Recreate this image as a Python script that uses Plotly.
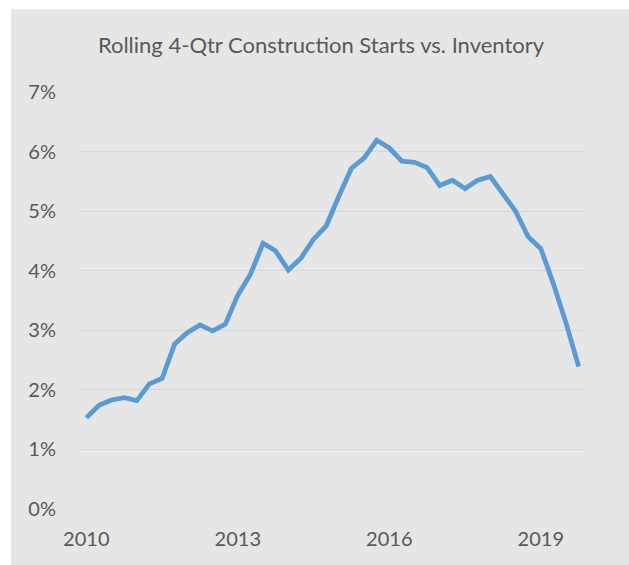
import plotly.graph_objects as go

quarters = [
    "2010 Q1", "2010 Q2", "2010 Q3", "2010 Q4",
    "2011 Q1", "2011 Q2", "2011 Q3", "2011 Q4",
    "2012 Q1", "2012 Q2", "2012 Q3", "2012 Q4",
    "2013 Q1", "2013 Q2", "2013 Q3", "2013 Q4",
    "2014 Q1", "2014 Q2", "2014 Q3", "2014 Q4",
    "2015 Q1", "2015 Q2", "2015 Q3", "2015 Q4",
    "2016 Q1", "2016 Q2", "2016 Q3", "2016 Q4",
    "2017 Q1", "2017 Q2", "2017 Q3", "2017 Q4",
    "2018 Q1", "2018 Q2", "2018 Q3", "2018 Q4",
    "2019 Q1", "2019 Q2", "2019 Q3", "2019 Q4",
]
starts_pct = [
    1.53, 1.74, 1.83, 1.87, 1.82, 2.10, 2.19, 2.77, 2.96, 3.09,
    2.99, 3.10, 3.59, 3.94, 4.46, 4.33, 4.01, 4.21, 4.53, 4.75,
    5.25, 5.72, 5.89, 6.19, 6.06, 5.84, 5.82, 5.73, 5.43, 5.52,
    5.38, 5.52, 5.58, 5.30, 5.00, 4.57, 4.37, 3.78, 3.12, 2.39,
]
tick_quarters = ["2010 Q1", "2013 Q1", "2016 Q1", "2019 Q1"]
tick_labels = ["2010", "2013", "2016", "2019"]
y_ticks = [0, 1, 2, 3, 4, 5, 6, 7]
y_tick_labels = ["0%", "1%", "2%", "3%", "4%", "5%", "6%", "7%"]

W, H = 629, 565
ML, MR, MT, MB = 80, 44, 91.7, 56
PW = W - ML - MR
PH = H - MT - MB

FONT = "Lato"
TXT = "#595959"
BG = "#e6e6e6"

fig = go.Figure(
    go.Scatter(
        x=quarters,
        y=starts_pct,
        mode="lines",
        line=dict(color="#5b9bd5", width=4.8),
        hoverinfo="skip",
    )
)

# white strips at top and left (chart area begins at x=11, y=9)
fig.add_shape(type="rect", xref="paper", yref="paper", layer="below",
              x0=-ML / PW - 0.05, x1=(11 - ML) / PW, y0=-MB / PH - 0.1, y1=1 + MT / PH + 0.1,
              fillcolor="white", line_width=0)
fig.add_shape(type="rect", xref="paper", yref="paper", layer="below",
              x0=-ML / PW - 0.1, x1=(W - ML) / PW + 0.1, y0=1 + (MT - 9) / PH, y1=1 + MT / PH + 0.1,
              fillcolor="white", line_width=0)

fig.update_layout(
    width=W,
    height=H,
    margin=dict(l=ML, r=MR, t=MT, b=MB, pad=0),
    paper_bgcolor=BG,
    plot_bgcolor=BG,
    showlegend=False,
    font=dict(family=FONT, color=TXT, size=20),
    title=dict(
        text="Rolling 4-Qtr Construction Starts vs. Inventory",
        x=321 / W,
        xanchor="center",
        y=1 - 45.5 / H,
        yanchor="middle",
        font=dict(family=FONT, size=22, color=TXT),
    ),
    xaxis=dict(
        type="category",
        categoryorder="array",
        categoryarray=quarters,
        range=[-0.5, len(quarters) - 0.5],
        tickmode="array",
        tickvals=tick_quarters,
        ticktext=tick_labels,
        showgrid=False,
        showline=False,
        zeroline=False,
        ticks="",
        ticklabelstandoff=16,
        tickfont=dict(family=FONT, size=20, color=TXT),
    ),
    yaxis=dict(
        range=[0, 7],
        tickmode="array",
        tickvals=y_ticks,
        ticktext=y_tick_labels,
        showgrid=True,
        gridcolor="#d6d6d6",
        gridwidth=1.3,
        zeroline=False,
        showline=False,
        ticks="",
        ticklabelstandoff=23,
        tickfont=dict(family=FONT, size=20, color=TXT),
    ),
)

fig.write_html(
    "out.html",
    config={"displayModeBar": False},
    post_script="document.body.style.margin='0';document.body.style.overflow='hidden';",
)
